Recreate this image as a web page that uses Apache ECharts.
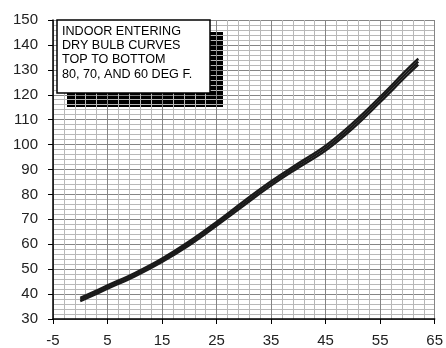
<!DOCTYPE html>
<html>
<head>
<meta charset="utf-8">
<script src="https://cdn.jsdelivr.net/npm/echarts@6/dist/echarts.min.js"></script>
<style>
html, body { margin: 0; padding: 0; background: #fff; }
#chart { width: 446px; height: 348px; }
</style>
</head>
<body>
<div id="chart"></div>
<script>
// outdoor temp (x) and the three dry bulb curves
var outdoorTemp = [0, 5, 10, 15, 20, 25, 30, 35, 40, 45, 50, 55, 60, 62];
var curve80 = [38.5, 43.5, 48.5, 54.3, 61.2, 69.0, 77.3, 85.3, 92.5, 99.6, 108.7, 119.2, 130.3, 134.5];
var curve70 = [37.8, 42.8, 47.8, 53.6, 60.4, 68.2, 76.4, 84.4, 91.6, 98.6, 107.6, 118.1, 129.1, 133.3];
var curve60 = [37.1, 42.1, 47.1, 52.9, 59.6, 67.4, 75.5, 83.5, 90.7, 97.6, 106.5, 117.0, 127.9, 132.1];
var legendLines = ['INDOOR ENTERING', 'DRY BULB CURVES', 'TOP TO BOTTOM', '80, 70, AND 60 DEG F.'];

// x axis ticks start at -5, so shift by 5 to keep min a multiple of interval
var xShift = 5;

function toPairs(ys) {
  return outdoorTemp.map(function (x, i) { return [x + xShift, ys[i]]; });
}

function curveSeries(ys) {
  return {
    type: 'line',
    data: toPairs(ys),
    smooth: 0.4,
    symbol: 'none',
    lineStyle: { color: '#1a1a1a', width: 2.2 },
    z: 5
  };
}

var chart = echarts.init(document.getElementById('chart'));
var option = {
  animation: false,
  grid: { left: 53, right: 5, top: 20, bottom: 29 },
  xAxis: {
    type: 'value',
    min: 0,
    max: 70,
    interval: 10,
    axisLine: { show: true, onZero: false, lineStyle: { color: '#000', width: 1.5 } },
    axisTick: { show: true, length: 5, lineStyle: { color: '#000' } },
    axisLabel: {
      color: '#222', fontSize: 15, fontFamily: 'Liberation Sans', margin: 14,
      formatter: function (v) { return v - xShift; }
    },
    splitLine: { show: true, lineStyle: { color: '#858585', width: 1 } },
    minorTick: { show: false, splitNumber: 5 },
    minorSplitLine: { show: true, lineStyle: { color: '#b8b8b8', width: 1 } }
  },
  yAxis: {
    type: 'value',
    min: 30,
    max: 150,
    interval: 10,
    axisLine: { show: true, lineStyle: { color: '#000', width: 1.5 } },
    axisTick: { show: true, length: 5, lineStyle: { color: '#000' } },
    axisLabel: { color: '#222', fontSize: 15, fontFamily: 'Liberation Sans', margin: 15 },
    splitLine: { show: true, lineStyle: { color: '#858585', width: 1 } },
    minorTick: { show: false, splitNumber: 5 },
    minorSplitLine: { show: true, lineStyle: { color: '#b8b8b8', width: 1 } }
  },
  graphic: [
    { // shadow of the note box, grid shows through it
      type: 'rect',
      z: -10,
      shape: { x: 67, y: 32, width: 156, height: 75 },
      style: { fill: '#000' }
    },
    {
      type: 'rect',
      z: 100,
      shape: { x: 57, y: 20, width: 153, height: 73 },
      style: { fill: '#fff', stroke: '#000', lineWidth: 1.5 }
    },
    {
      type: 'text',
      z: 101,
      left: 62,
      top: 24,
      style: {
        text: legendLines.join('\n'),
        fill: '#000',
        font: '12.6px "Liberation Sans"',
        lineHeight: 14.3
      }
    }
  ],
  series: [curveSeries(curve80), curveSeries(curve70), curveSeries(curve60)]
};
chart.setOption(option);
</script>
</body>
</html>
